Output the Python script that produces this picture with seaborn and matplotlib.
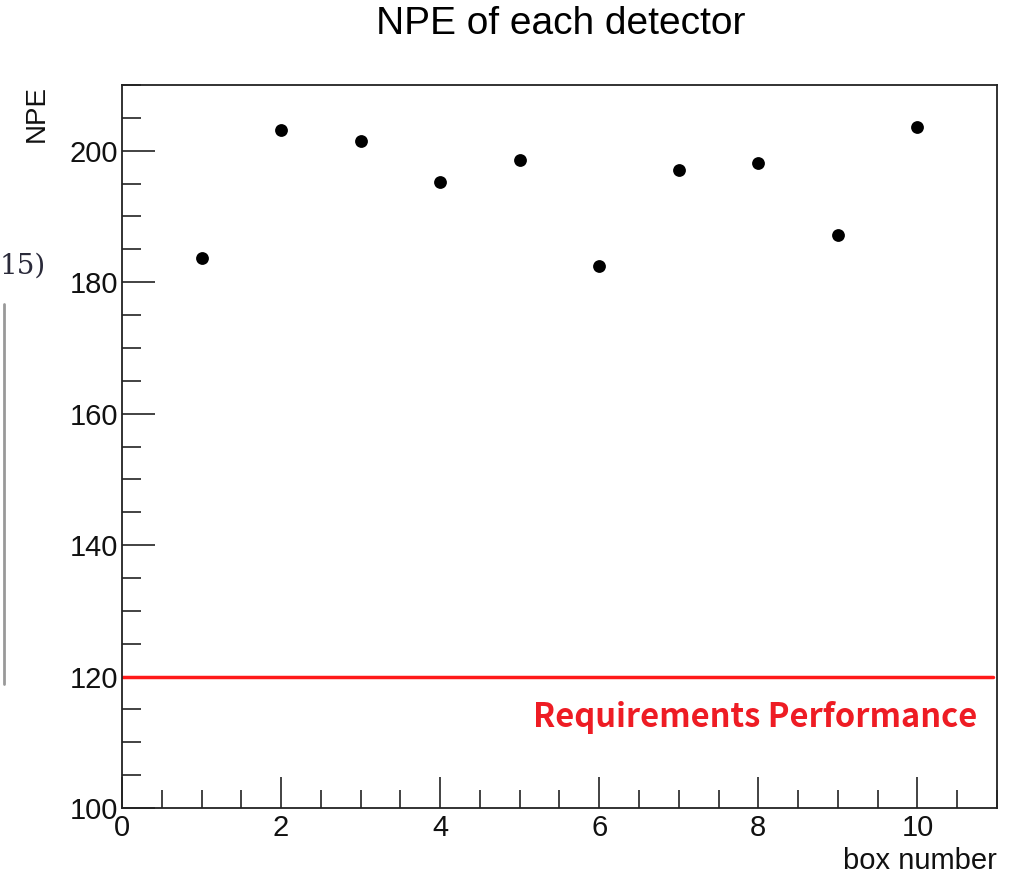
import numpy as np
import pandas as pd
import matplotlib
matplotlib.use("Agg")
import matplotlib.pyplot as plt
import seaborn as sns
from matplotlib.ticker import MultipleLocator

## Data
box_number = [1, 2, 3, 4, 5, 6, 7, 8, 9, 10]
npe = [183.7, 203.2, 201.5, 195.3, 198.6, 182.4, 197.1, 198.2, 187.2, 203.6]
req_level = 120
req_label = 'Requirements Performance'

df = pd.DataFrame({'box number': box_number, 'NPE': npe})

sns.set_style('ticks')
plt.rcParams['font.family'] = ['Liberation Sans', 'DejaVu Sans']

fig = plt.figure(figsize=(10.25, 8.74), dpi=100)
ax = fig.add_axes([0.119, 0.0755, 0.8537, 0.8272])

sns.scatterplot(data=df, x='box number', y='NPE', color='black', s=85,
                edgecolor='black', linewidth=0, ax=ax, zorder=3)
ax.plot([0, 10.95], [req_level, req_level], color='#ff1a1a', lw=2.5, zorder=2)
ax.text(7.96, 113.8, req_label, color='#ee1c24', fontsize=23.5, fontweight='bold',
        family=['Noto Sans CJK JP', 'DejaVu Sans'], ha='center', va='center')

ax.set_xlim(0, 11)
ax.set_ylim(100, 210)
ax.xaxis.set_major_locator(MultipleLocator(2))
ax.xaxis.set_minor_locator(MultipleLocator(0.5))
ax.yaxis.set_major_locator(MultipleLocator(20))
ax.yaxis.set_minor_locator(MultipleLocator(5))
ax.tick_params(which='major', direction='in', length=24, width=1.2, labelsize=21,
               color='#222222', labelcolor='#111111')
ax.tick_params(axis='x', which='major', length=22)
ax.tick_params(which='minor', direction='in', length=13, width=1.2, color='#222222')
ax.tick_params(axis='y', which='minor', length=14)
ax.tick_params(axis='x', pad=4)
ax.tick_params(axis='y', pad=3)
for sp in ax.spines.values():
    sp.set_linewidth(1.3)
    sp.set_color('#222222')

ax.set_xlabel('box number', fontsize=21, loc='right', labelpad=4, color='#111111')
ax.set_ylabel('NPE', fontsize=20, loc='top', labelpad=14, color='#111111')
fig.text(0.547, 0.972, 'NPE of each detector', fontsize=28, ha='center', va='center',
         color='black')

# bits of the neighbouring page caught in the screenshot
fig.text(0.0, 0.695, '15)', fontsize=20, family='DejaVu Serif', color='#2a2a3a', va='center')
fig.add_artist(plt.Line2D([0.004, 0.004], [0.217, 0.652], color='#999999', lw=2))

fig.savefig('out.png', dpi=100)
